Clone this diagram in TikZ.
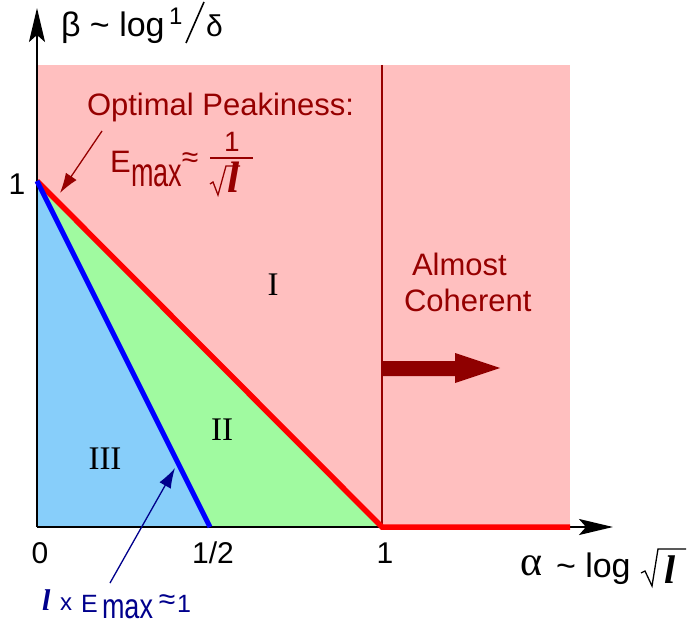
\documentclass[tikz,border=0pt]{standalone}
\usepackage{fontspec}
\usepackage{graphicx}
\setmainfont{Liberation Sans}
\newfontfamily\tms{Liberation Serif}
\usetikzlibrary{arrows.meta}
\definecolor{pinkbg}{RGB}{255,191,191}
\definecolor{lblue}{RGB}{135,206,250}
\definecolor{lgreen}{RGB}{160,250,160}
\definecolor{dred}{RGB}{150,0,0}
\definecolor{dblue}{RGB}{0,0,140}
\tikzset{
  lbl/.style={inner sep=0pt, outer sep=0pt, font=\fontsize{#1}{#1}\selectfont},
  axisline/.style={line width=2pt, -{Stealth[length=34pt,width=16pt,inset=7pt]}},
  thickred/.style={line width=5.5pt, red},
  thickblue/.style={line width=5pt, blue},
  pointer/.style={line width=1.3pt, -{Latex[length=20pt,width=13pt]}},
}
\begin{document}
\begin{tikzpicture}[x=1pt,y=-1pt]
\useasboundingbox (0,0) rectangle (687,628);
% coordinates
\coordinate (O) at (37,527);
\coordinate (Y1) at (37,181);
\coordinate (Xh) at (210,527);
\coordinate (X1) at (382,527);
\coordinate (Xe) at (570,527);
\coordinate (Top1) at (382,65);
\coordinate (Ytip) at (37,8);
\coordinate (Xtip) at (613,527);
% regions
\fill[pinkbg] (37,65) rectangle (570,527);
\fill[lblue] (Y1) -- (O) -- (Xh) -- cycle;
\fill[lgreen] (Y1) -- (Xh) -- (X1) -- cycle;
\draw[dred, line width=1.3pt] (Top1) -- (X1);
% axes
\draw[axisline] (O) -- (Ytip);
\draw[axisline] (O) -- (Xtip);
% boundaries
\draw[thickred] (Y1) -- (X1) -- (Xe);
\draw[thickblue] (Y1) -- (Xh);
% thick arrow
\fill[dred!95!black] (382,361) -- (455,361) -- (455,353) -- (500,368) -- (455,383) -- (455,376) -- (382,376) -- cycle;
% pointers
\coordinate (pa1) at (102,131);
\coordinate (pa2) at (60,193);
\draw[pointer, dred] (pa1) -- (pa2);
\coordinate (pb1) at (110,583);
\coordinate (pb2) at (175,468);
\draw[pointer, dblue] (pb1) -- (pb2);
% y-axis label
\node[lbl=34, anchor=base west] (ylab) at (61,37) {β \textasciitilde{} log};
\node[lbl=24, anchor=base west] (yone) at (169,25) {1};
\coordinate (sl1) at (186,43);
\coordinate (sl2) at (204,2);
\draw[line width=1.6pt] (sl1) -- (sl2);
\node[lbl=30, anchor=base west] (ydelta) at (206,37) {δ};
% x-axis label
\node[lbl=42, anchor=base west] (xal) at (520,575) {\tms α};
\node[lbl=34, anchor=base west] (xlog) at (556,577) {\textasciitilde{} log};
\coordinate (r1) at (641,573);
\coordinate (r2) at (645,571);
\coordinate (r3) at (652,586);
\coordinate (r4) at (658,549);
\coordinate (r5) at (686,549);
\draw[line width=1.3pt, line join=miter] (r1) -- (r2) -- (r3) -- (r4) -- (r5);
\node[lbl=40, anchor=base west] (xl) at (664,583) {\tms\bfseries\itshape l};
% tick labels
\node[lbl=30, anchor=base] (t0) at (40,563) {0};
\node[lbl=30, anchor=base] (th) at (213,563) {1/2};
\node[lbl=30, anchor=base] (t1) at (385,563) {1};
\node[lbl=30, anchor=base] (ty1) at (17,195) {1};
% region labels
\node[lbl=33, anchor=base] (rI) at (273,295) {\tms I};
\node[lbl=33, anchor=base] (rII) at (222,440) {\tms II};
\node[lbl=33, anchor=base] (rIII) at (105,469) {\tms III};
% Almost coherent
\node[lbl=31, text=dred, anchor=base west] (alm) at (412,275) {Almost};
\node[lbl=31, text=dred, anchor=base west] (coh) at (404,311) {Coherent};
% Optimal peakiness
\node[lbl=31, text=dred, anchor=base west] (opt) at (87,116) {Optimal Peakiness:};
\node[lbl=31, text=dred, anchor=base west] (emE) at (110,173) {E};
\node[lbl=27, text=dred, anchor=base west] (emax) at (131,187) {\scalebox{1}[1.5]{max}};
\node[lbl=30, text=dred] (eapprox) at (190,160) {≈};
\node[lbl=28, text=dred, anchor=base] (fone) at (232,152) {1};
\coordinate (fb1) at (210,158);
\coordinate (fb2) at (253,158);
\draw[dred, line width=1.5pt] (fb1) -- (fb2);
\coordinate (s1) at (210,184);
\coordinate (s2) at (213,182);
\coordinate (s3) at (218,195);
\coordinate (s4) at (226,166);
\coordinate (s5) at (240,166);
\draw[dred, line width=1.3pt, line join=miter] (s1) -- (s2) -- (s3) -- (s4) -- (s5);
\node[lbl=44, text=dred, anchor=base west] (fl) at (227,193) {\tms\bfseries\itshape l};
% bottom label
\node[lbl=30, text=dblue, anchor=base west] (bl) at (42,610) {\tms\bfseries\itshape l};
\node[lbl=24, text=dblue, anchor=base west] (bx) at (60,610) {x};
\node[lbl=25, text=dblue, anchor=base west] (bE) at (81,612) {E};
\node[lbl=27, text=dblue, anchor=base west] (bmax) at (102,618) {\scalebox{1}[1.3]{max}};
\node[lbl=30, text=dblue] (bapprox) at (167,602) {≈};
\node[lbl=25, text=dblue, anchor=base west] (bone) at (177,612) {1};
\end{tikzpicture}
\end{document}
